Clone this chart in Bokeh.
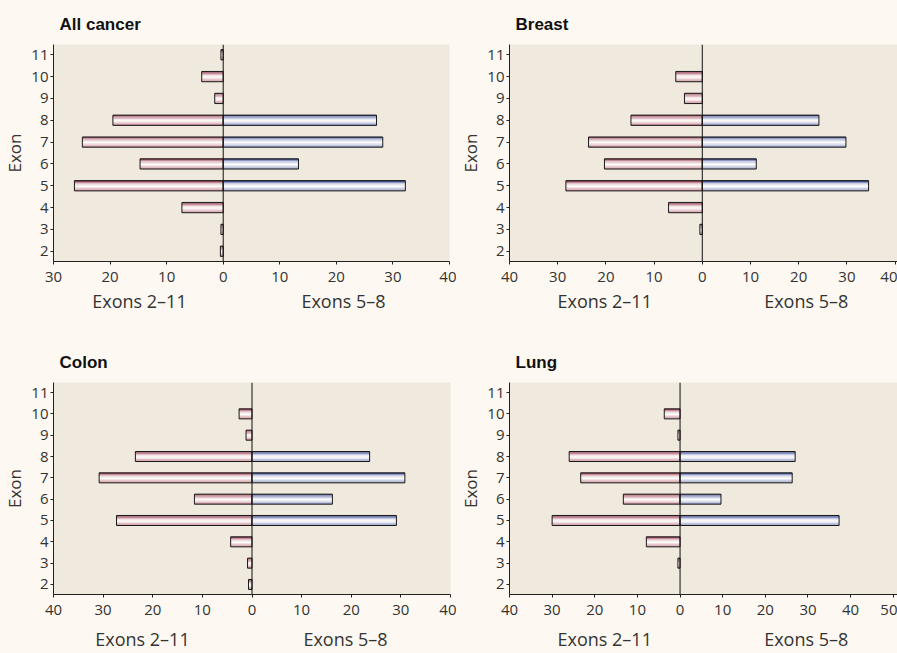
from bokeh.plotting import figure
from bokeh.models import Span, FixedTicker, Range1d, LinearAxis
from bokeh.layouts import column, row
from bokeh.embed import file_html
from bokeh.resources import INLINE

# ---------------- data ----------------
exons = [2, 3, 4, 5, 6, 7, 8, 9, 10, 11]
exons_5_8 = [5, 6, 7, 8]

all_left = [0.5, 0.4, 7.3, 26.3, 14.7, 24.9, 19.5, 1.5, 3.8, 0.4]
all_right = [32.2, 13.3, 28.2, 27.1]

breast_left = [0.0, 0.5, 7.0, 28.3, 20.3, 23.6, 14.8, 3.7, 5.5, 0.0]
breast_right = [34.5, 11.2, 29.8, 24.2]

colon_left = [0.7, 0.9, 4.3, 27.3, 11.6, 30.8, 23.5, 1.2, 2.6, 0.0]
colon_right = [29.1, 16.2, 30.8, 23.7]

lung_left = [0.0, 0.5, 7.9, 30.0, 13.3, 23.3, 26.0, 0.5, 3.7, 0.0]
lung_right = [37.3, 9.6, 26.3, 27.0]

titles = ["All cancer", "Breast", "Colon", "Lung"]
left_label = "Exons 2\u201311"
right_label = "Exons 5\u20138"
y_label = "Exon"

# ---------------- style ----------------
PAGE_BG = "#FDF9F2"
PLOT_BG = "#F0E9DD"
TEXT = "#333333"
TICK_FONT = "Open Sans"
BAR_H = 0.47
Y_LO, Y_HI = 1.53, 11.47
PINK = ["#94485C", "#C08A98", "#E2BFC7", "#F6E9EC", "#FFFFFF", "#F3E0E4", "#E2BBC3", "#CC97A3"]
BLUE = ["#434F88", "#8C96C2", "#C5CBE4", "#ECEEF7", "#FFFFFF", "#E4E7F3", "#C0C6E0", "#9EA6CC"]


def striped_bars(p, ys, lefts, rights, colors):
    n = len(colors)
    h = BAR_H / n
    for i, c in enumerate(colors):
        off = BAR_H / 2 - (i + 0.5) * h
        p.hbar(y=[y + off for y in ys], height=h, left=lefts, right=rights,
               fill_color=c, line_color=None)
    p.hbar(y=ys, height=BAR_H, left=lefts, right=rights,
           fill_color=None, line_color="#1A1A1A", line_width=1)


def style_axis(ax, size):
    ax.axis_line_color = "#222222"
    ax.major_tick_line_color = "#222222"
    ax.major_tick_out = 3
    ax.major_tick_in = 0
    ax.minor_tick_line_color = None
    ax.major_label_text_font = TICK_FONT
    ax.major_label_text_font_size = size
    ax.major_label_text_color = TEXT


def panel(title, lvals, rvals, xlo, xhi, xticks, width, height,
          b_left, b_right, b_top, b_bottom, lab_px, cap_standoff):
    p = figure(width=width, height=height, output_backend="svg", toolbar_location=None,
               x_range=Range1d(xlo, xhi), y_range=Range1d(Y_LO, Y_HI),
               min_border_left=b_left, min_border_right=b_right,
               min_border_top=b_top, min_border_bottom=b_bottom,
               title=title)
    p.background_fill_color = PLOT_BG
    p.border_fill_color = PAGE_BG
    p.outline_line_color = None
    p.grid.visible = False

    p.title.text_font = "Liberation Sans"
    p.title.text_font_style = "bold"
    p.title.text_font_size = "17px"
    p.title.text_color = "#111111"
    p.title.offset = 6
    p.title.standoff = 22

    ly = [e for e, v in zip(exons, lvals) if v > 0]
    lv = [-v for v in lvals if v > 0]
    striped_bars(p, ly, lv, [0] * len(lv), PINK)
    striped_bars(p, exons_5_8, [0] * len(rvals), rvals, BLUE)

    p.add_layout(Span(location=0, dimension="height", line_color="#111111", line_width=1))

    style_axis(p.xaxis[0], "15px")
    style_axis(p.yaxis[0], "15px")

    p.xaxis.ticker = FixedTicker(ticks=xticks)
    p.xaxis.major_label_overrides = {t: str(abs(t)) for t in xticks}
    p.xaxis.major_label_standoff = 7

    p.yaxis.ticker = FixedTicker(ticks=exons)
    p.yaxis.major_label_standoff = 2
    p.yaxis.axis_label = y_label
    p.yaxis.axis_label_text_font = TICK_FONT
    p.yaxis.axis_label_text_font_size = "17px"
    p.yaxis.axis_label_text_font_style = "normal"
    p.yaxis.axis_label_text_color = TEXT
    p.yaxis.axis_label_standoff = 2

    # the two half-axis captions, as a tick-less second axis below the first
    frame_w = width - b_left - b_right
    pos = [round(xlo + px * (xhi - xlo) / frame_w, 2) for px in lab_px]
    cap = LinearAxis(ticker=FixedTicker(ticks=pos),
                     major_label_overrides={pos[0]: left_label, pos[1]: right_label})
    style_axis(cap, "18px")
    cap.axis_line_color = None
    cap.major_tick_line_color = None
    cap.major_tick_out = 0
    cap.major_label_standoff = cap_standoff
    p.add_layout(cap, "below")
    return p


p1 = panel(titles[0], all_left, all_right, -30, 40, [-30, -20, -10, 0, 10, 20, 30, 40],
           456, 338, 53, 7, 44, 77, (86, 290), 4)
p2 = panel(titles[1], breast_left, breast_right, -40, 40.5, [-40, -30, -20, -10, 0, 10, 20, 30, 40],
           441, 338, 50, 0, 44, 77, (96, 299), 4)
p3 = panel(titles[2], colon_left, colon_right, -40, 40, [-40, -30, -20, -10, 0, 10, 20, 30, 40],
           456, 315, 53, 6, 44, 55, (89, 292), 9)
p4 = panel(titles[3], lung_left, lung_right, -40, 51, [-40, -30, -20, -10, 0, 10, 20, 30, 40, 50],
           441, 315, 50, 0, 44, 55, (96, 299), 9)

layout = column(row(p1, p2), row(p3, p4))

html = file_html(layout, INLINE)
html = html.replace("</head>", "<style>html, body { background: %s; }</style></head>" % PAGE_BG, 1)
open("out.html", "w").write(html)
